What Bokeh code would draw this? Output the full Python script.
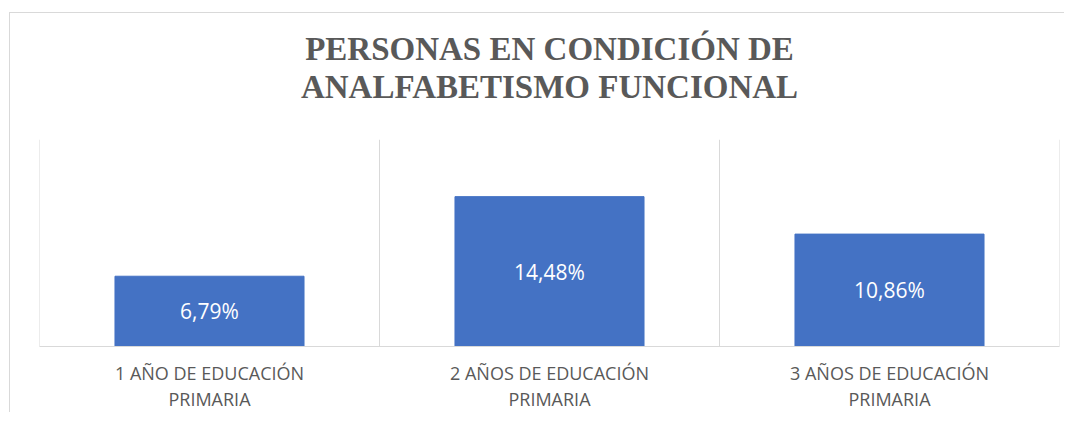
from bokeh.plotting import figure
from bokeh.models import Range1d, ColumnDataSource, LinearAxis, FixedTicker, Title
from bokeh.core.properties import value
from bokeh.embed import file_html
from bokeh.resources import INLINE

# ---- data ----
categories = ["1 AÑO DE EDUCACIÓN PRIMARIA",
              "2 AÑOS DE EDUCACIÓN PRIMARIA",
              "3 AÑOS DE EDUCACIÓN PRIMARIA"]
tick_labels_line1 = ["1 AÑO DE EDUCACIÓN",
                     "2 AÑOS DE EDUCACIÓN",
                     "3 AÑOS DE EDUCACIÓN"]
tick_labels_line2 = ["PRIMARIA", "PRIMARIA", "PRIMARIA"]
values = [6.79, 14.48, 10.86]
title_lines = ["PERSONAS EN CONDICIÓN DE", "ANALFABETISMO FUNCIONAL"]

n = len(categories)
centers = [i + 0.5 for i in range(n)]
bounds = [float(i) for i in range(n + 1)]
labels = [f"{v:.2f}".replace(".", ",") + "%" for v in values]
src = ColumnDataSource(dict(x=centers, cat=categories, val=values,
                            mid=[v / 2 for v in values], label=labels))
sep = ColumnDataSource(dict(x=bounds, y0=[0] * len(bounds), y1=[20] * len(bounds)))

p = figure(x_range=Range1d(0, n), y_range=Range1d(0, 20),
           width=1055, height=400,
           output_backend="svg", toolbar_location=None,
           x_axis_location=None, y_axis_location=None,
           min_border_left=29, min_border_right=6,
           min_border_top=126, min_border_bottom=67,
           styles={"margin-top": "12px", "margin-left": "9px",
                   "border-top": "1px solid #d9d9d9",
                   "border-left": "1px solid #d9d9d9"})

# category separators
p.segment(x0="x", x1="x", y0="y0", y1="y1", source=sep,
          line_color="#d9d9d9", line_width=1)

p.vbar(x="x", top="val", width=0.556, source=src,
       fill_color="#4472C4", line_color="#4472C4")

p.text(x="x", y="mid", text="label", source=src,
       text_align="center", text_baseline="middle",
       text_color="white", text_font=value("Open Sans"), text_font_size="21px")

title_style = dict(align="center", text_font="Liberation Serif",
                   text_font_style="bold", text_font_size="33px",
                   text_color="#595959")
# spacer between the title block and the plot area
p.add_layout(Title(text="\u00a0", text_font_size="1px", standoff=32), "above")
p.add_layout(Title(text=title_lines[1], standoff=0, **title_style), "above")
p.title = Title(text=title_lines[0], standoff=0, **title_style)

common = dict(ticker=FixedTicker(ticks=centers), major_tick_line_color=None,
              minor_tick_line_color=None, major_label_text_font="Open Sans",
              major_label_text_font_size="18px", major_label_text_color="#595959")
ax1 = LinearAxis(major_label_overrides=dict(zip(centers, tick_labels_line1)),
                 axis_line_color="#d9d9d9", major_label_standoff=8, **common)
ax2 = LinearAxis(major_label_overrides=dict(zip(centers, tick_labels_line2)),
                 axis_line_color=None, major_label_standoff=-7, **common)
p.add_layout(ax1, "below")
p.add_layout(ax2, "below")

p.xgrid.visible = False
p.ygrid.visible = False
p.outline_line_color = None

open("out.html", "w").write(file_html(p, INLINE))
